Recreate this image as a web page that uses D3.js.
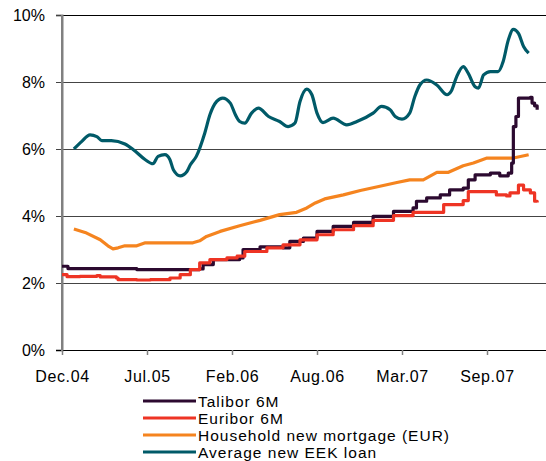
<!DOCTYPE html>
<meta charset="utf-8">
<html>
<script src="https://d3js.org/d3.v7.min.js"></script>
<body style="margin:0;background:#fff;">
<style>
    text { font-family: "Liberation Sans", Arial, sans-serif; fill: #000; }
    .tickLabel { font-size: 16px; }
    .legendText { font-size: 15.5px; letter-spacing: 1px; }
</style>
<div id="chart"></div>
<script>
    // axis labels (x positions are equally spaced category ticks)
    var xLabels = ["Dec.04", "Jul.05", "Feb.06", "Aug.06", "Mar.07", "Sep.07"];
    var yTicks = [0, 2, 4, 6, 8, 10];

    // series: [tick position, value %]
    var talibor = [[0,2.50],[0.06,2.50],[0.07,2.43],[0.84,2.43],[0.88,2.40],[1.48,2.40],[1.62,2.42],[1.66,2.55],
        [1.78,2.70],[2.09,2.75],[2.13,3.00],[2.33,3.08],[2.60,3.05],[2.68,3.24],[2.84,3.34],[3.00,3.54],
        [3.19,3.69],[3.43,3.81],[3.66,3.99],[3.90,4.14],[4.13,4.24],[4.17,4.44],[4.29,4.54],[4.45,4.63],
        [4.56,4.78],[4.72,4.83],[4.78,5.08],[4.86,5.23],[5.04,5.28],[5.15,5.20],[5.25,5.28],[5.29,5.58],
        [5.31,6.67],[5.34,6.97],[5.37,7.52],[5.51,7.54],[5.53,7.37],[5.56,7.29],[5.59,7.17]];

    var euribor = [[0,2.25],[0.06,2.19],[0.21,2.20],[0.41,2.22],[0.45,2.18],[0.64,2.15],[0.66,2.10],[0.88,2.09],
        [1.04,2.10],[1.27,2.15],[1.39,2.25],[1.51,2.40],[1.62,2.60],[1.74,2.70],[1.94,2.75],[2.06,2.80],
        [2.15,2.94],[2.41,3.05],[2.60,3.14],[2.80,3.29],[3.00,3.44],[3.19,3.59],[3.43,3.71],[3.66,3.87],
        [3.90,4.01],[4.13,4.11],[4.49,4.34],[4.72,4.46],[4.78,4.73],[5.00,4.73],[5.11,4.63],[5.23,4.60],
        [5.27,4.69],[5.37,4.92],[5.43,4.78],[5.51,4.69],[5.56,4.44],[5.59,4.40]];

    var mortgage = [[0.14,3.61],[0.29,3.49],[0.45,3.29],[0.54,3.11],[0.60,3.02],[0.66,3.05],[0.74,3.11],
        [0.88,3.11],[0.98,3.20],[1.54,3.20],[1.62,3.26],[1.70,3.39],[1.86,3.54],[2.09,3.71],[2.33,3.87],
        [2.56,4.04],[2.76,4.11],[2.88,4.24],[2.98,4.39],[3.09,4.51],[3.31,4.63],[3.51,4.76],[3.78,4.91],
        [3.94,5.00],[4.09,5.08],[4.25,5.08],[4.41,5.30],[4.54,5.30],[4.72,5.50],[4.84,5.58],[5.00,5.73],
        [5.31,5.73],[5.49,5.83]];

    var eekLoan = [[0.14,6.00],[0.23,6.22],[0.33,6.42],[0.41,6.37],[0.47,6.25],[0.58,6.25],[0.74,6.15],
        [0.84,5.98],[0.98,5.68],[1.07,5.56],[1.13,5.78],[1.21,5.83],[1.27,5.68],[1.31,5.38],[1.39,5.20],
        [1.47,5.33],[1.51,5.53],[1.58,5.78],[1.68,6.48],[1.74,7.02],[1.82,7.42],[1.89,7.52],[1.98,7.37],
        [2.04,7.02],[2.09,6.82],[2.15,6.77],[2.23,7.07],[2.31,7.22],[2.43,6.97],[2.56,6.82],[2.66,6.67],
        [2.74,6.77],[2.80,7.42],[2.88,7.79],[2.94,7.62],[3.00,7.07],[3.07,6.79],[3.19,6.92],[3.35,6.72],
        [3.47,6.82],[3.66,7.07],[3.76,7.27],[3.86,7.17],[3.92,6.97],[4.00,6.89],[4.09,7.07],[4.15,7.56],
        [4.21,7.91],[4.29,8.06],[4.41,7.91],[4.53,7.62],[4.58,7.73],[4.64,8.14],[4.72,8.46],[4.78,8.26],
        [4.86,7.86],[4.90,7.82],[4.96,8.21],[5.04,8.31],[5.13,8.31],[5.19,8.61],[5.25,9.25],[5.31,9.57],
        [5.37,9.45],[5.43,9.06],[5.49,8.86]];

    var seriesNames = ["Talibor 6M", "Euribor 6M", "Household new mortgage (EUR)", "Average new EEK loan"];
    var seriesColors = ["#2c0a30", "#ee3424", "#f5841f", "#005a68"];

    var width = 546, height = 461;
    var margin = {top: 15, left: 62, right: 0, bottom: 111};

    var svg = d3.select("#chart").append("svg")
        .attr("width", width)
        .attr("height", height);

    var x = d3.scaleLinear().domain([0, 5.694]).range([margin.left, width - margin.right]);
    var y = d3.scaleLinear().domain([0, 10]).range([height - margin.bottom, margin.top]);

    // gridlines
    svg.append("g").selectAll("line")
        .data(yTicks.filter(function(d){ return d > 0; }))
        .enter().append("line")
        .attr("x1", margin.left - 6)
        .attr("x2", width)
        .attr("y1", function(d){ return Math.round(y(d)) + 0.5; })
        .attr("y2", function(d){ return Math.round(y(d)) + 0.5; })
        .attr("stroke", function(d){ return d == 10 ? "#000" : "#444"; })
        .attr("stroke-width", 1.2);

    // y axis
    var yAxis = svg.append("g")
        .attr("transform", "translate(" + margin.left + ",0)")
        .call(d3.axisLeft(y).tickValues(yTicks).tickSize(6).tickPadding(11)
            .tickFormat(function(d){ return d + "%"; }));
    yAxis.select(".domain").attr("stroke", "#808080").attr("stroke-width", 2);
    yAxis.selectAll(".tick line").attr("stroke", "#444");
    yAxis.selectAll("text").attr("class", "tickLabel").attr("dy", "0.36em");

    // x axis
    var xAxis = svg.append("g")
        .attr("transform", "translate(0," + y(0) + ")")
        .call(d3.axisBottom(x).tickValues(d3.range(xLabels.length)).tickSize(5).tickPadding(16)
            .tickFormat(function(d){ return xLabels[d]; }));
    xAxis.select(".domain").attr("stroke", "#000").attr("d", "M" + (margin.left - 6) + ",0.5H" + width);
    xAxis.selectAll(".tick line").attr("stroke", "#808080").attr("stroke-width", 1.5);
    xAxis.selectAll("text").attr("class", "tickLabel").style("letter-spacing", "0.6px");

    // y axis line on top of x domain
    svg.append("line")
        .attr("x1", margin.left).attr("x2", margin.left)
        .attr("y1", y(10)).attr("y2", y(0) + 1)
        .attr("stroke", "#808080").attr("stroke-width", 2);

    // lines
    var line = d3.line()
        .x(function(d){ return x(d[0]); })
        .y(function(d){ return y(d[1]); });

    var allSeries = [talibor, euribor, mortgage, eekLoan];
    var curves = [d3.curveStepAfter, d3.curveStepAfter, d3.curveLinear, d3.curveMonotoneX];
    var drawOrder = [2, 0, 1, 3];

    drawOrder.forEach(function(i){
        svg.append("path")
            .datum(allSeries[i])
            .attr("fill", "none")
            .attr("stroke", seriesColors[i])
            .attr("stroke-width", 3.2)
            .attr("stroke-linejoin", "round")
            .attr("d", line.curve(curves[i]));
    });

    // legend
    var legendY = [401, 418, 435, 452];
    var legend = svg.append("g");
    legend.selectAll("line")
        .data(seriesNames)
        .enter().append("line")
        .attr("x1", 143).attr("x2", 196)
        .attr("y1", function(d,i){ return legendY[i]; })
        .attr("y2", function(d,i){ return legendY[i]; })
        .attr("stroke", function(d,i){ return seriesColors[i]; })
        .attr("stroke-width", 3);
    legend.selectAll("text")
        .data(seriesNames)
        .enter().append("text")
        .attr("class", "legendText")
        .attr("x", 198)
        .attr("y", function(d,i){ return legendY[i] + 6; })
        .text(function(d){ return d; });
</script>
</body>
</html>
